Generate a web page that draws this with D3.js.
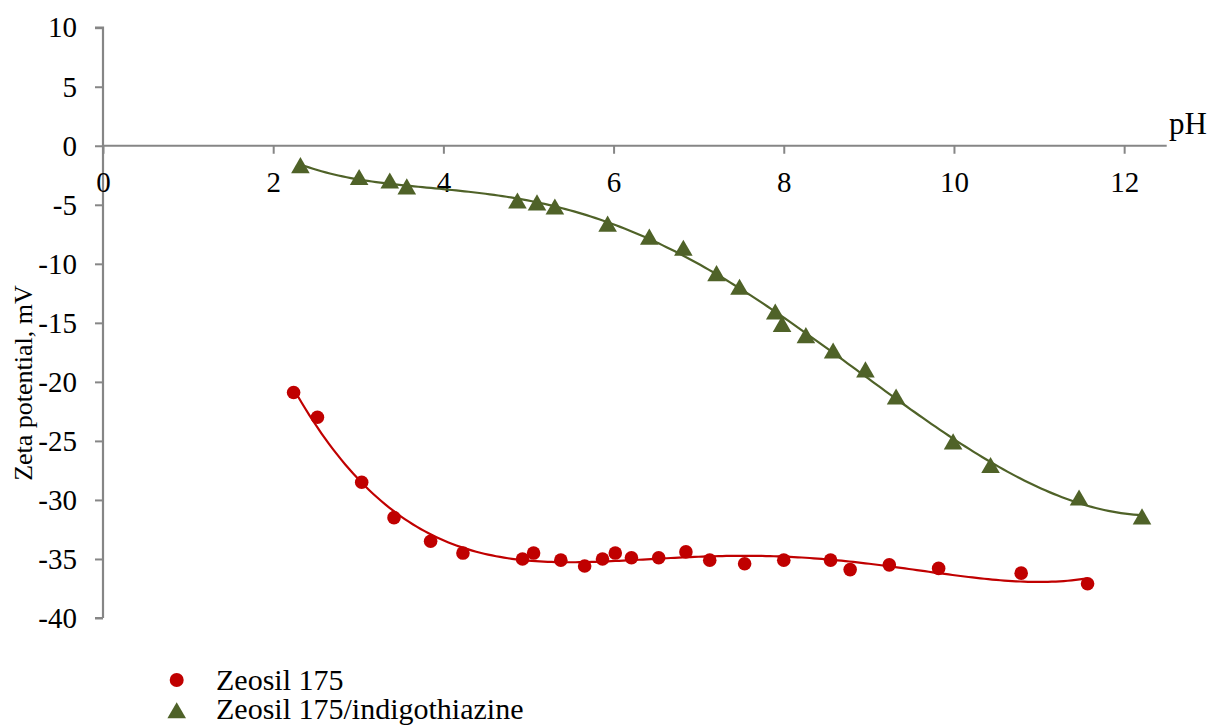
<!DOCTYPE html>
<html>
<head>
<meta charset="utf-8">
<script src="https://cdn.jsdelivr.net/npm/d3@7"></script>
<style>
  html, body { margin: 0; padding: 0; background: #fff; }
  svg { display: block; }
</style>
</head>
<body>
<svg id="chart" width="1216" height="726"></svg>
<script>
// ---- data ----
const seriesNames = ["Zeosil 175", "Zeosil 175/indigothiazine"];
const zeosilPH = [2.24, 2.52, 3.04, 3.42, 3.85, 4.23, 4.93, 5.06, 5.38, 5.66, 5.87, 6.02, 6.21, 6.53, 6.85, 7.13, 7.54, 8.0, 8.55, 8.78, 9.24, 9.82, 10.79, 11.57];
const zeosilZeta = [-20.9, -23.0, -28.5, -31.5, -33.5, -34.5, -35.0, -34.5, -35.1, -35.6, -35.0, -34.5, -34.9, -34.9, -34.4, -35.1, -35.4, -35.1, -35.1, -35.9, -35.5, -35.8, -36.2, -37.1];
const indigoPH = [2.32, 3.01, 3.37, 3.57, 4.87, 5.10, 5.31, 5.93, 6.42, 6.82, 7.21, 7.48, 7.90, 7.98, 8.26, 8.58, 8.96, 9.32, 9.99, 10.43, 11.47, 12.21];
const indigoZeta = [-1.7, -2.7, -3.0, -3.5, -4.7, -4.85, -5.2, -6.65, -7.75, -8.7, -10.85, -12.0, -14.1, -15.15, -16.1, -17.4, -19.0, -21.3, -25.1, -27.1, -29.85, -31.45];
const xTicks = [0, 2, 4, 6, 8, 10, 12];
const yTicks = [-40, -35, -30, -25, -20, -15, -10, -5, 0, 5, 10];
const xTitle = "pH";
const yTitle = "Zeta potential, mV";

// ---- polynomial trendline (least squares) ----
function polyfit(xs, ys, deg) {
  const c = 7, s = 5;
  const n = deg + 1;
  const A = Array.from({length: n}, () => new Array(n + 1).fill(0));
  xs.forEach((x0, k) => {
    const x = (x0 - c) / s;
    const p = [];
    for (let i = 0; i < n; i++) p.push(Math.pow(x, i));
    for (let i = 0; i < n; i++) {
      for (let j = 0; j < n; j++) A[i][j] += p[i] * p[j];
      A[i][n] += p[i] * ys[k];
    }
  });
  for (let i = 0; i < n; i++) {
    let m = i;
    for (let r = i + 1; r < n; r++) if (Math.abs(A[r][i]) > Math.abs(A[m][i])) m = r;
    [A[i], A[m]] = [A[m], A[i]];
    for (let r = 0; r < n; r++) {
      if (r === i) continue;
      const f = A[r][i] / A[i][i];
      for (let j = i; j <= n; j++) A[r][j] -= f * A[i][j];
    }
  }
  const coef = A.map((row, i) => row[n] / row[i]);
  return x0 => { const x = (x0 - c) / s; return coef.reduce((acc, cf, i) => acc + cf * Math.pow(x, i), 0); };
}

// ---- layout ----
const FONT = '"Liberation Serif", Tinos, "Times New Roman", Times, "DejaVu Serif", serif';
const svg = d3.select("#chart");
const x = d3.scaleLinear().domain([0, 12.5]).range([103, 1166.7]);
const y = d3.scaleLinear().domain([-40, 10]).range([618, 27.7]);
const axisColor = "#868686";
const red = "#C00000", green = "#4F6228";
const fs = 29;

// y axis
const yAxis = svg.append("g").attr("transform", `translate(${x(0)},0)`)
  .call(d3.axisLeft(y).tickValues(yTicks).tickSize(8).tickPadding(18).tickFormat(d => String(d)));
yAxis.select(".domain").attr("stroke", axisColor).attr("stroke-width", 2.2).attr("d", `M0,${y(-40)}H-8M0,${y(-40)}V${y(10)}H-8`);
yAxis.selectAll(".tick line").attr("stroke", axisColor).attr("stroke-width", 2);
yAxis.selectAll(".tick text").style("font-size", fs + "px").style("font-family", FONT).attr("fill", "#000");

// x axis at y = 0
const xAxis = svg.append("g").attr("transform", `translate(0,${y(0)})`)
  .call(d3.axisBottom(x).tickValues(xTicks).tickSize(8).tickPadding(18).tickFormat(d => String(d)));
xAxis.select(".domain").attr("stroke", axisColor).attr("stroke-width", 2.2).attr("d", `M${x(0)},0H${x(12.5)}`);
xAxis.selectAll(".tick line").attr("stroke", axisColor).attr("stroke-width", 2);
xAxis.selectAll(".tick text").style("font-size", fs + "px").style("font-family", FONT).attr("fill", "#000");

// axis titles
svg.append("text").attr("x", 1169).attr("y", 134).style("font-size", "31px").style("font-family", FONT).text(xTitle);
svg.append("text").attr("transform", `translate(31.5,383) rotate(-90)`)
  .attr("text-anchor", "middle").style("font-size", "26px").style("font-family", FONT).text(yTitle);

// trendlines
const line = d3.line().x(d => x(d[0])).y(d => y(d[1])).curve(d3.curveLinear);
function trend(xs, ys, deg, color) {
  const f = polyfit(xs, ys, deg);
  const lo = d3.min(xs), hi = d3.max(xs);
  const pts = d3.range(0, 201).map(i => { const xv = lo + (hi - lo) * i / 200; return [xv, f(xv)]; });
  svg.append("path").datum(pts).attr("d", line).attr("fill", "none").attr("stroke", color).attr("stroke-width", 2.2);
}
trend(zeosilPH, zeosilZeta, 4, red);
trend(indigoPH, indigoZeta, 5, green);

// markers
const tri = d3.symbol().type(d3.symbolTriangle).size(150);
svg.append("g").selectAll("circle").data(zeosilPH.map((p, i) => [p, zeosilZeta[i]])).join("circle")
  .attr("cx", d => x(d[0])).attr("cy", d => y(d[1])).attr("r", 6.8).attr("fill", red);
svg.append("g").selectAll("path").data(indigoPH.map((p, i) => [p, indigoZeta[i]])).join("path")
  .attr("d", tri).attr("transform", d => `translate(${x(d[0])},${y(d[1]) + 2})`).attr("fill", green);

// legend
const lg = svg.append("g");
lg.append("circle").attr("cx", 176.7).attr("cy", 680).attr("r", 7).attr("fill", red);
lg.append("path").attr("d", tri).attr("transform", "translate(176.7,713)").attr("fill", green);
lg.append("text").attr("x", 216).attr("y", 689.5).style("font-size", "30px").style("font-family", FONT).text(seriesNames[0]);
lg.append("text").attr("x", 216).attr("y", 718.5).style("font-size", "30px").style("font-family", FONT).text(seriesNames[1]);
</script>
</body>
</html>
